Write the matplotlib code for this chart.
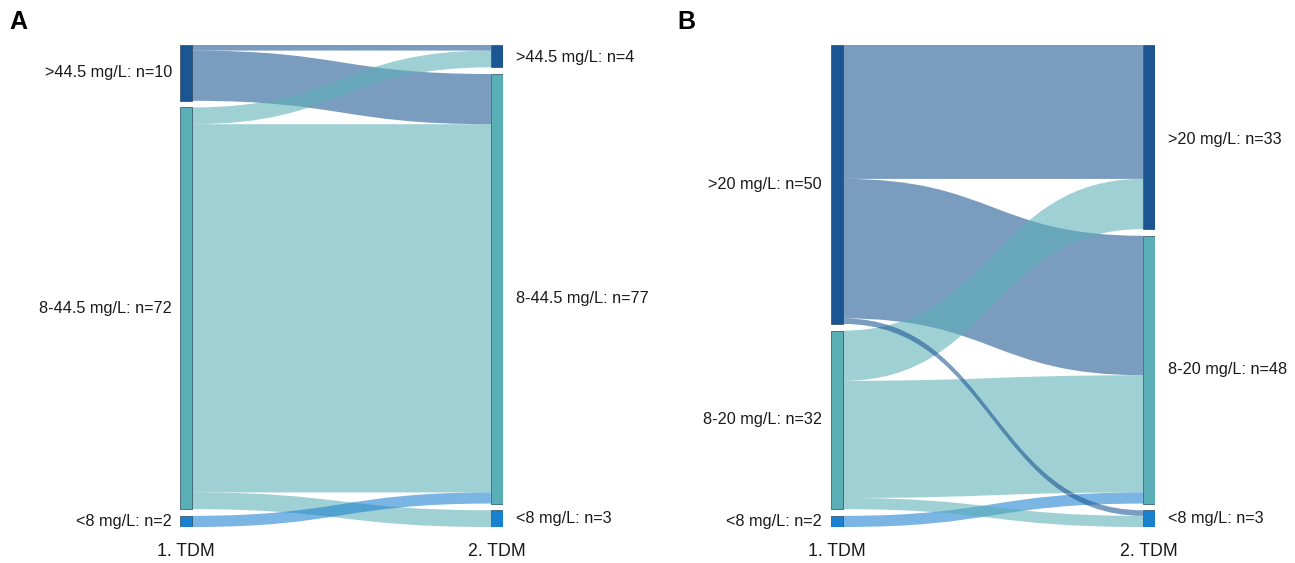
"""Two Sankey diagrams of drug levels at the 1st and 2nd TDM."""

import matplotlib
matplotlib.use("Agg")
import matplotlib.pyplot as plt
import numpy as np
from matplotlib.patches import PathPatch, Rectangle
from matplotlib.path import Path

plt.rcParams["font.family"] = ["Liberation Sans", "DejaVu Sans"]

# panel A: thresholds 8 / 44.5 mg/L
levels_a = [">44.5 mg/L", "8-44.5 mg/L", "<8 mg/L"]
# rows = 1. TDM group, columns = 2. TDM group
flows_a = [
    [1, 9, 0],
    [3, 66, 3],
    [0, 2, 0],
]

# panel B: thresholds 8 / 20 mg/L
levels_b = [">20 mg/L", "8-20 mg/L", "<8 mg/L"]
flows_b = [
    [24, 25, 1],
    [9, 21, 2],
    [0, 2, 0],
]

columns = ["1. TDM", "2. TDM"]
node_colors = ["#1b5592", "#5aafb6", "#1a80d0"]

W, H = 1295, 563
GAP = 1.2          # gap between nodes, in patient units
NODE_W = 12        # node width in pixels


def node_spans(counts):
    spans, y = [], 0.0
    for c in counts:
        spans.append((y, y + c))
        y += c + GAP
    return spans


def draw_sankey(ax, levels, flows, width_px, left_pad, right_pad, right_dy):
    flows = np.array(flows)
    left_counts = flows.sum(axis=1)
    right_counts = flows.sum(axis=0)
    total = left_counts.sum() + GAP * (len(levels) - 1)
    nw = NODE_W / width_px

    ax.set_xlim(0, 1)
    ax.set_ylim(total, 0)
    ax.axis("off")

    lspans = node_spans(left_counts)
    rspans = node_spans(right_counts)

    # links: ordered by target inside each source, by source inside each target
    out_pos = [s[0] for s in lspans]
    in_pos = [s[0] for s in rspans]
    links = []
    for i in range(len(levels)):
        for j in range(len(levels)):
            v = flows[i, j]
            if v == 0:
                continue
            links.append((i, j, v, out_pos[i]))
            out_pos[i] += v
    placed = []
    for j in range(len(levels)):
        for (i, jj, v, y0) in links:
            if jj == j:
                placed.append((i, j, v, y0, in_pos[j]))
                in_pos[j] += v

    # thin links on top
    placed.sort(key=lambda l: -l[2])
    x0, x1 = nw, 1 - nw
    xm = (x0 + x1) / 2
    for i, j, v, y0, y1 in placed:
        verts = [
            (x0, y0), (xm, y0), (xm, y1), (x1, y1),
            (x1, y1 + v), (xm, y1 + v), (xm, y0 + v), (x0, y0 + v),
            (x0, y0),
        ]
        codes = [Path.MOVETO, Path.CURVE4, Path.CURVE4, Path.CURVE4,
                 Path.LINETO, Path.CURVE4, Path.CURVE4, Path.CURVE4,
                 Path.CLOSEPOLY]
        ax.add_patch(PathPatch(Path(verts, codes), facecolor=node_colors[i],
                               edgecolor="none", alpha=0.58, zorder=1))

    for k, (lvl, (a, b), (c, d)) in enumerate(zip(levels, lspans, rspans)):
        ax.add_patch(Rectangle((0, a), nw, b - a, facecolor=node_colors[k],
                               edgecolor="#2c4a5a", linewidth=0.5, zorder=3))
        ax.add_patch(Rectangle((1 - nw, c), nw, d - c, facecolor=node_colors[k],
                               edgecolor="#2c4a5a", linewidth=0.5, zorder=3))
        ax.annotate(f"{lvl}: n={left_counts[k]}", xy=(0, (a + b) / 2),
                    xytext=(-left_pad, 0), textcoords="offset pixels",
                    ha="right", va="center", fontsize=11.7, color="#1a1a1a")
        ax.annotate(f"{lvl}: n={right_counts[k]}", xy=(1, (c + d) / 2),
                    xytext=(right_pad, -right_dy[k]), textcoords="offset pixels",
                    ha="left", va="center", fontsize=11.7, color="#1a1a1a")

    for x, name in zip([nw / 2, 1 - nw / 2], columns):
        ax.annotate(name, xy=(x, total), xytext=(0, -24), textcoords="offset pixels",
                    ha="center", va="center", fontsize=12.8, color="#1a1a1a")


fig = plt.figure(figsize=(W / 100, H / 100), dpi=100)

top, bottom = 45, 527
for letter, lx, levels, flows, x_left, x_right, lpad, rpad, rdy in [
    ("A", 9, levels_a, flows_a, 180, 503, 8, 13, [1, 10, 0]),
    ("B", 677, levels_b, flows_b, 831, 1155, 9, 13, [2, 0, 0]),
]:
    ax = fig.add_axes([x_left / W, 1 - bottom / H, (x_right - x_left) / W, (bottom - top) / H])
    draw_sankey(ax, levels, flows, x_right - x_left, lpad, rpad, rdy)
    fig.text(lx / W, 1 - 22 / H, letter, ha="left", va="center",
             fontsize=18, fontweight="bold")

fig.savefig("out.png", dpi=100, facecolor="white")
